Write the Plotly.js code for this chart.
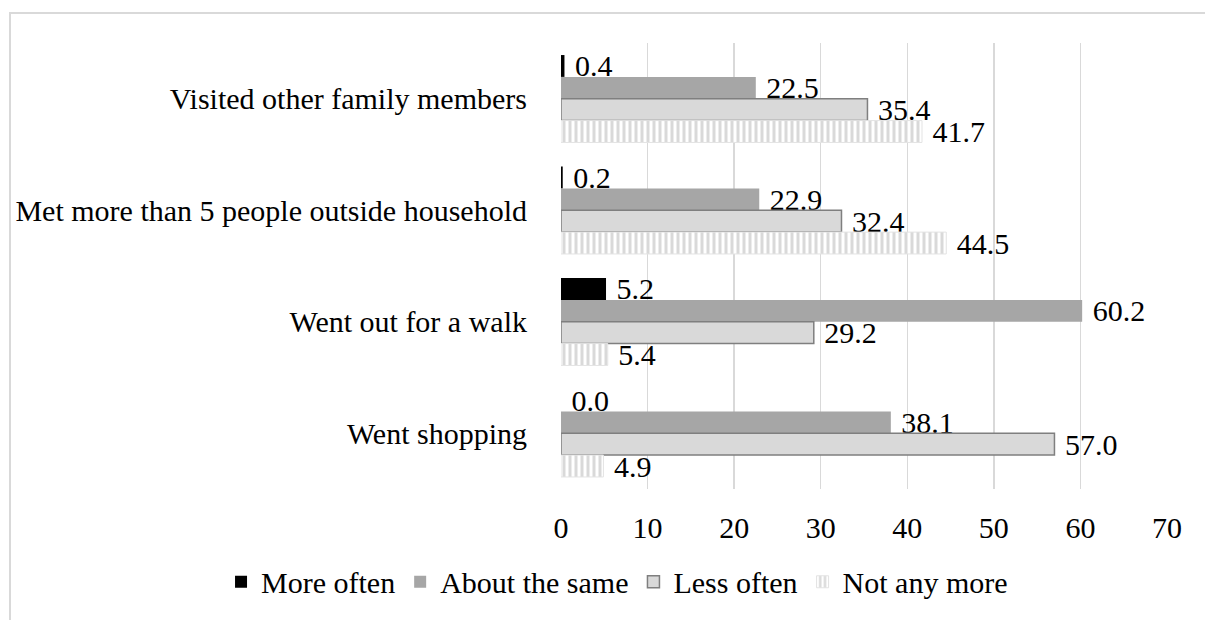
<!DOCTYPE html>
<html>
<head>
<meta charset="utf-8">
<script src="https://cdn.plot.ly/plotly-3.0.1.min.js"></script>
<style>
html,body{margin:0;padding:0;background:#fff;}
#frame{position:absolute;left:9px;top:12px;width:1200px;height:620px;border-top:2px solid #d9d9d9;border-left:2px solid #d9d9d9;}
#chart{position:absolute;left:0;top:0;width:1205px;height:620px;}
</style>
</head>
<body>
<div id="frame"></div>
<div id="chart"></div>
<script>
const categories = ["Visited other family members", "Met more than 5 people outside household", "Went out for a walk", "Went shopping"];
const seriesNames = ["More often", "About the same", "Less often", "Not any more"];
const moreOften = [0.4, 0.2, 5.2, 0.0];
const aboutSame = [22.5, 22.9, 60.2, 38.1];
const lessOften = [35.4, 32.4, 29.2, 57.0];
const notAnyMore = [41.7, 44.5, 5.4, 4.9];
const xTicks = [0, 10, 20, 30, 40, 50, 60, 70];

const font = "Times New Roman";
const FS = 30;
const styles = [
  {color: "#000000", line: {width: 0}},
  {color: "#a6a6a6", line: {width: 0}},
  {color: "#d9d9d9", line: {color: "#7f7f7f", width: 1.5}},
  {color: "#ffffff", line: {color: "#e3e3e3", width: 1},
   pattern: {shape: "|", fgcolor: "#d9d9d9", bgcolor: "#ffffff", size: 6, solidity: 0.5, fillmode: "replace"}}
];
const values = [moreOften, aboutSame, lessOften, notAnyMore];

const traces = values.map((v, i) => ({
  type: "bar",
  orientation: "h",
  name: seriesNames[i],
  y: categories,
  x: v,
  marker: styles[i],
  text: v.map(n => "\u00a0" + n.toFixed(1)),
  textposition: "outside",
  constraintext: "none",
  cliponaxis: false,
  textfont: {family: font, size: FS, color: "#000"},
  hoverinfo: "x+name"
}));

const layout = {
  width: 1205, height: 620,
  paper_bgcolor: "rgba(0,0,0,0)", plot_bgcolor: "rgba(0,0,0,0)",
  margin: {l: 561, r: 38, t: 43, b: 123},
  barmode: "group",
  bargap: 0.216,
  bargroupgap: 0,
  font: {family: font, size: FS, color: "#000"},
  xaxis: {
    range: [0, 70], tickvals: xTicks, ticktext: xTicks.map(String),
    showgrid: true, gridcolor: "#d9d9d9", gridwidth: 1.5,
    zeroline: false, showline: false, ticks: "",
    ticklabelstandoff: 18,
    tickfont: {family: font, size: FS, color: "#000"}
  },
  yaxis: {
    type: "category", autorange: "reversed",
    showgrid: false, zeroline: false, showline: false, ticks: "",
    ticklabelstandoff: 33,
    tickfont: {family: font, size: FS, color: "#000"}
  },
  legend: {
    orientation: "h", x: -0.561, xanchor: "left", y: -0.208, yanchor: "middle",
    font: {family: font, size: FS, color: "#000"},
    traceorder: "normal", itemwidth: 30
  },
  showlegend: true
};

Plotly.newPlot("chart", traces, layout, {displayModeBar: false, staticPlot: true});
</script>
</body>
</html>
